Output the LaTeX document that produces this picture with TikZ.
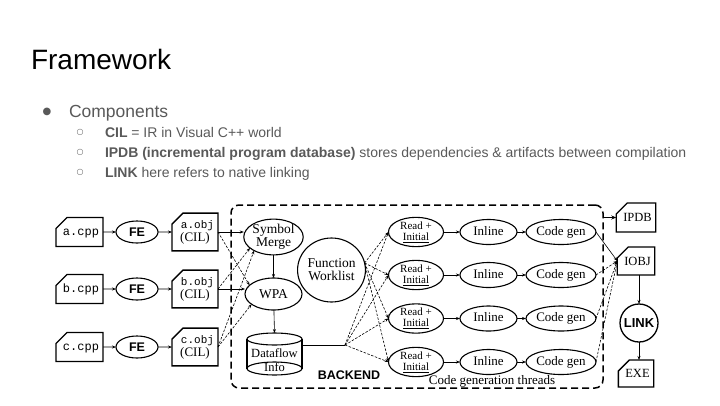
\documentclass[tikz,border=0pt]{standalone}
\usepackage{fontspec}
\setmainfont{Liberation Serif}
\setsansfont{Liberation Sans}
\setmonofont{Liberation Mono}
\newfontfamily\dejavu{DejaVu Sans}
\usetikzlibrary{shapes.misc,shapes.geometric,arrows.meta,calc}
\definecolor{txtgray}{HTML}{595959}
\begin{document}
\begin{tikzpicture}[x=1pt,y=-1pt,
  every node/.style={inner sep=0pt,outer sep=0pt},
  doc/.style={draw,line width=1.3pt,chamfered rectangle,chamfered rectangle corners=north west,
    chamfered rectangle xsep=4pt,chamfered rectangle ysep=7pt,minimum width=45pt,minimum height=29pt},
  objbox/.style={doc,minimum width=44pt,align=center},
  outbox/.style={doc,minimum width=34pt,minimum height=28pt,text height=8.5pt,text depth=0pt,font=\fontsize{12.5}{12.5}\selectfont},
  ell/.style={draw,ellipse,line width=1.1pt},
  fe/.style={ell,minimum width=42pt,minimum height=22pt,text height=9pt,text depth=0pt,font=\sffamily\bfseries\fontsize{12.5}{12.5}\selectfont},
  proc/.style={ell,minimum width=57pt,minimum height=31pt,align=center,font=\fontsize{13.5}{13}\selectfont},
  readn/.style={ell,minimum width=55pt,minimum height=25pt,align=center,font=\fontsize{11}{11}\selectfont},
  inl/.style={ell,minimum width=57pt,minimum height=25pt,text height=9pt,text depth=2.5pt,font=\fontsize{13}{13}\selectfont},
  cgn/.style={ell,minimum width=58pt,minimum height=25pt,text height=9pt,text depth=2.5pt,font=\fontsize{13}{13}\selectfont},
  arr/.style={-{Stealth[length=4pt,width=3pt]},line width=0.6pt},
  darr/.style={arr,dash pattern=on 2.5pt off 1.5pt},
  sarr/.style={-{Stealth[length=5pt,width=4pt]},line width=1pt},
  sub/.style={anchor=base west,text=txtgray,font=\sffamily\fontsize{14}{14}\selectfont},
  subdot/.style={text=txtgray,font=\dejavu\fontsize{8}{8}\selectfont}
]
\useasboundingbox (0,0) rectangle (720,405);

% header text
\node[anchor=base west,font=\sffamily\fontsize{28}{28}\selectfont] (title) at (31,69) {Framework};
\node[text=txtgray,font=\dejavu\fontsize{10}{10}\selectfont] (b0) at (47,112) {●};
\node[anchor=base west,text=txtgray,font=\sffamily\fontsize{17.5}{17.5}\selectfont] (comp) at (69,117.5) {Components};
\node[subdot] (b1) at (80,132.5) {○};
\node[subdot] (b2) at (80,152.5) {○};
\node[subdot] (b3) at (80,172.5) {○};
\node[sub] (l1) at (105,137) {\textbf{CIL} = IR in Visual C++ world};
\node[sub] (l2) at (105,157) {\textbf{IPDB (incremental program database)} stores dependencies \& artifacts between compilation};
\node[sub] (l3) at (105,177) {\textbf{LINK} here refers to native linking};

% backend frame
\node[draw,line width=1.5pt,dash pattern=on 7pt off 4pt,rounded corners=8pt,
  minimum width=372pt,minimum height=183pt] (backend) at (417,296.5) {};
\node[font=\sffamily\bfseries\fontsize{12.5}{12.5}\selectfont] (belabel) at (349,375) {BACKEND};
\node[font=\fontsize{13}{13}\selectfont] (cglabel) at (492,381) {Code generation threads};

% front end rows
\foreach \n/\y in {a/232,b/289,c/347}{
  \node[doc,text height=8pt,text depth=2pt,font=\ttfamily\fontsize{12}{12}\selectfont] (\n cpp) at (79.5,\y) {\hspace*{3pt}\n.cpp};
  \node[fe] (\n fe) at (137,\y) {FE};
  \node[objbox] (\n obj) at (195,\y) {\hspace*{5pt}{\ttfamily\fontsize{11}{11}\selectfont \n.obj}\\[1pt]{\fontsize{13}{13}\selectfont (CIL)}};
  \draw[arr] (\n cpp) -- (\n fe);
  \draw[arr] (\n fe) -- (\n obj);
}

% backend nodes
\node[proc] (sm) at (273.5,237) {Symbol\\Merge};
\node[proc,minimum height=32pt,text height=9pt,text depth=0pt] (wpa) at (273.5,294) {WPA};
\node[proc,minimum height=64pt] (fw) at (331.5,270) {Function\\Worklist};
\node[minimum width=55pt,minimum height=42pt] (df) at (274.5,354) {};
\draw[line width=1.1pt] ($(df.north)+(0,6)$) ellipse [x radius=27.5pt,y radius=6pt];
\draw[line width=1.1pt] ($(df.south)+(0,-6.5)$) ellipse [x radius=27.5pt,y radius=6.5pt];
\draw[line width=1.1pt] ($(df.north west)+(0,6)$) -- ($(df.south west)+(0,-6.5)$);
\draw[line width=1.1pt] ($(df.north east)+(0,6)$) -- ($(df.south east)+(0,-6.5)$);
\node[anchor=base,font=\fontsize{12.5}{12.5}\selectfont] (dft1) at (274.5,357) {Dataflow};
\node[anchor=base,font=\fontsize{12.5}{12.5}\selectfont] (dft2) at (274.5,371) {Info};
\coordinate (junc) at (345,345);

\foreach \i/\y in {1/232,2/275,3/318.5,4/362}{
  \node[readn] (rd\i) at (416,\y) {Read +\\\underline{Initial}};
  \node[inl] (in\i) at (488.5,\y) {Inline};
  \node[cgn] (cg\i) at (561,\y) {Code gen};
  \draw[arr] (rd\i) -- (in\i);
  \draw[arr] (in\i) -- (cg\i);
  \draw[darr] (fw.12) -- (rd\i.west);
  \draw[darr] (junc) -- (rd\i.west);
}

% obj -> backend
\draw[arr] (aobj.east) -- (aobj.east -| sm.west);
\draw[darr] (aobj.east) -- (wpa.160);
\draw[arr] (bobj.east) -- (bobj.east -| wpa.west);
\draw[darr] (bobj.east) -- (sm.205);
\draw[darr] (cobj.east) -- (sm.215);
\draw[darr] (cobj.east) -- (wpa.205);
\draw[arr] (sm) -- (wpa);
\draw[arr] (wpa) -- (df.north);
\draw[line width=0.8pt] ($(df.north east)+(0,12)$) -- (junc);

% outputs
\node[outbox,minimum height=29pt] (ipdb) at (636,217.5) {\hspace*{3pt}IPDB};
\node[outbox] (iobj) at (636,261) {\hspace*{3pt}IOBJ};
\node[circle,draw,line width=1.3pt,minimum size=38pt,font=\sffamily\bfseries\fontsize{13}{13}\selectfont] (link) at (639,323) {LINK};
\node[outbox,minimum height=27pt] (exe) at (636,373.5) {\hspace*{3pt}EXE};
\draw[sarr] (backend.east |- ipdb.west) -- (ipdb.west);
\draw[arr] (cg1.east) -- (iobj.west);
\foreach \i in {2,3,4}{\draw[darr] (cg\i.east) -- (iobj.west);}
\draw[arr] (iobj.south -| link.north) -- (link.north);
\draw[arr] (link.south) -- (link.south |- exe.north);
\end{tikzpicture}
\end{document}
